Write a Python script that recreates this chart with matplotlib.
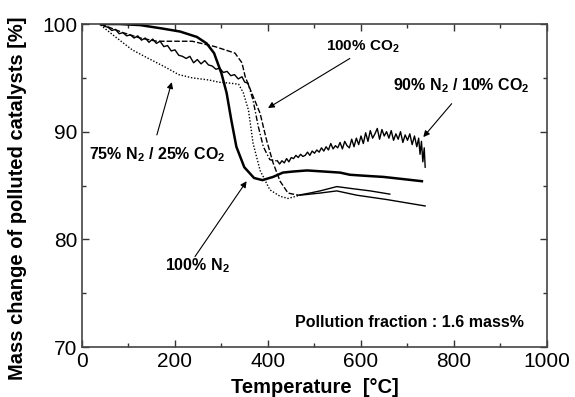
import numpy as np
import matplotlib
matplotlib.use("Agg")
import matplotlib.pyplot as plt
from matplotlib.ticker import MultipleLocator

plt.rcParams['font.family'] = ['Liberation Sans', 'DejaVu Sans']
plt.rcParams['mathtext.fontset'] = 'custom'
plt.rcParams['mathtext.rm'] = 'Liberation Sans'
plt.rcParams['mathtext.bf'] = 'Liberation Sans:bold'
plt.rcParams['mathtext.default'] = 'bf'

# 100% N2 (thick solid)
t_n2 = [40, 80, 125, 170, 211, 247, 268, 284, 300, 311, 321, 332, 349, 370, 388,
        411, 432, 454, 484, 520, 555, 576, 610, 648, 690, 731]
m_n2 = [100.0, 100.0, 99.9, 99.6, 99.3, 98.8, 98.2, 97.3, 95.4, 93.6, 91.1, 88.6,
        86.7, 85.7, 85.5, 85.8, 86.2, 86.3, 86.4, 86.3, 86.2, 86.0, 85.9, 85.8,
        85.6, 85.4]

# 100% CO2 (dashed until the plateau)
t_co2 = [40, 88, 125, 161, 196, 237, 286, 329, 344, 351, 365, 383, 397, 411, 426,
         443, 465, 490, 512, 548, 583, 620, 662]
m_co2 = [100.0, 99.2, 98.7, 98.4, 98.4, 98.4, 97.9, 97.3, 96.4, 95.1, 93.6, 91.7,
         89.2, 87.1, 85.4, 84.3, 84.1, 84.3, 84.5, 84.9, 84.7, 84.5, 84.2]

# 75% N2 / 25% CO2 (dotted until the plateau)
t_mix75 = [40, 72, 108, 143, 179, 208, 237, 273, 294, 320, 337, 347, 358, 368,
           383, 404, 426, 443, 469, 512, 548, 591, 655, 738]
m_mix75 = [99.9, 98.8, 97.6, 96.8, 96.0, 95.3, 95.0, 94.8, 94.6, 94.5, 94.4, 93.6,
           92.0, 88.9, 86.4, 84.6, 84.0, 83.8, 84.1, 84.3, 84.5, 84.1, 83.7, 83.1]

# 90% N2 / 10% CO2 (noisy thin line, dash-dot in the drop)
t_mix90 = [40, 48, 56, 64, 72, 80, 88, 96, 104, 112, 120, 128, 136, 144, 152,
           160, 168, 176, 184, 192, 200, 208, 216, 224, 232, 240, 248, 256, 264,
           272, 280, 288, 296, 304, 312, 320, 328, 336, 344, 350, 357,
           368, 379, 390, 404, 415,
           420, 425, 430, 435, 440, 445, 450, 455, 460, 465, 470, 475, 480, 485,
           490, 495, 500, 505, 510, 515, 520, 525, 530, 535, 540, 545, 550, 555,
           560, 565, 570, 575, 580, 585, 590, 595, 600, 605, 610, 615, 620, 625,
           630, 635, 640, 645, 650, 655, 660, 665, 670, 675, 680, 685, 690, 695,
           700, 705, 710, 715, 720, 724, 727, 730, 733, 736, 738]
m_mix90 = [100.0, 99.8, 99.7, 99.4, 99.5, 99.1, 99.2, 98.9, 99.0, 98.7, 98.9, 98.5,
           98.7, 98.3, 98.6, 98.2, 98.4, 97.9, 98.0, 97.5, 97.6, 97.1, 97.0, 96.8,
           97.0, 96.4, 96.7, 96.3, 96.6, 96.2, 96.1, 95.8, 95.9, 95.5, 95.6, 95.2,
           95.3, 94.9, 95.1, 94.6, 94.5,
           92.9, 90.5, 88.6, 87.4, 87.3,
           87.3, 87.0, 87.3, 87.1, 87.5, 87.2, 87.6, 87.5, 87.8, 87.6, 87.9, 87.7,
           87.8, 88.1, 87.8, 88.2, 88.0, 88.3, 88.1, 88.5, 88.2, 88.6, 88.3, 88.9,
           88.4, 88.7, 88.5, 89.0, 88.4, 89.1, 88.7, 88.5, 89.3, 88.6, 89.4, 88.8,
           89.6, 88.9, 89.9, 89.1, 90.1, 89.4, 89.8, 90.3, 89.3, 90.2, 89.6, 90.0,
           89.4, 90.1, 89.2, 89.8, 89.3, 90.0, 89.0, 89.7, 89.2, 89.8, 88.8, 89.6,
           88.6, 89.4, 87.9, 89.1, 87.2, 88.5, 86.7]


def split_plot(ax, t, m, hi, style, lw):
    # special style up to hi, plain thin line after
    t = np.asarray(t)
    m = np.asarray(m)
    ax.plot(t[t <= hi], m[t <= hi], color='black', lw=lw, ls=style)
    ax.plot(t[t >= hi], m[t >= hi], color='black', lw=lw, ls='-')


fig = plt.figure(figsize=(5.75, 3.97), dpi=100)
ax = fig.add_axes([0.1426, 0.1259, 0.8087, 0.8136])

ax.plot(t_n2, m_n2, color='black', lw=1.8)
split_plot(ax, t_co2, m_co2, 465, (0, (4, 1.5)), 1.0)
split_plot(ax, t_mix75, m_mix75, 469, (0, (1, 1.3)), 1.0)

t90 = np.asarray(t_mix90)
m90 = np.asarray(m_mix90)
a = t90 <= 357
b = (t90 >= 357) & (t90 <= 420)
c = t90 >= 420
ax.plot(t90[a], m90[a], color='black', lw=1.0)
ax.plot(t90[b], m90[b], color='black', lw=1.0, ls=(0, (4, 1.5, 1, 1.5)))
ax.plot(t90[c], m90[c], color='black', lw=1.0)

ax.set_xlim(0, 1000)
ax.set_ylim(70, 100)
ax.xaxis.set_major_locator(MultipleLocator(200))
ax.xaxis.set_minor_locator(MultipleLocator(100))
ax.yaxis.set_major_locator(MultipleLocator(10))
ax.yaxis.set_minor_locator(MultipleLocator(5))
ax.tick_params(which='both', direction='in', top=True, right=True,
               width=1.0, colors='#333333', labelcolor='black', labelsize=15)
ax.tick_params(which='major', length=5)
ax.tick_params(which='minor', length=3)
for sp in ax.spines.values():
    sp.set_linewidth(1.2)
    sp.set_color('#444444')

ax.set_xlabel('Temperature  [°C]', fontsize=14.5, fontweight='bold', labelpad=5)
ax.set_ylabel('Mass change of polluted catalysts [%]', fontsize=14.5,
              fontweight='bold')
ax.yaxis.set_label_coords(-0.118, 0.46)

arrow = dict(arrowstyle='-|>', color='black', lw=0.8, mutation_scale=9,
             shrinkA=0, shrinkB=0)
fs = 11.5
ax.text(604, 97.9, '100% CO$_2$', fontsize=11, fontweight='bold',
        ha='center', va='center')
ax.annotate('', xy=(400, 92.2), xytext=(576, 96.8), arrowprops=arrow)

ax.text(815, 94.3, '90% N$_2$ / 10% CO$_2$', fontsize=fs, fontweight='bold',
        ha='center', va='center')
ax.annotate('', xy=(734, 89.5), xytext=(795, 92.6), arrowprops=arrow)

ax.text(161, 87.9, '75% N$_2$ / 25% CO$_2$', fontsize=fs, fontweight='bold',
        ha='center', va='center')
ax.annotate('', xy=(193, 94.6), xytext=(161, 89.7), arrowprops=arrow)

ax.text(248, 77.6, '100% N$_2$', fontsize=fs, fontweight='bold',
        ha='center', va='center')
ax.annotate('', xy=(354, 85.4), xytext=(243, 78.4), arrowprops=arrow)

ax.text(951, 72.3, 'Pollution fraction : 1.6 mass%', fontsize=fs,
        fontweight='bold', ha='right', va='center')

fig.savefig('out.png', dpi=100)
